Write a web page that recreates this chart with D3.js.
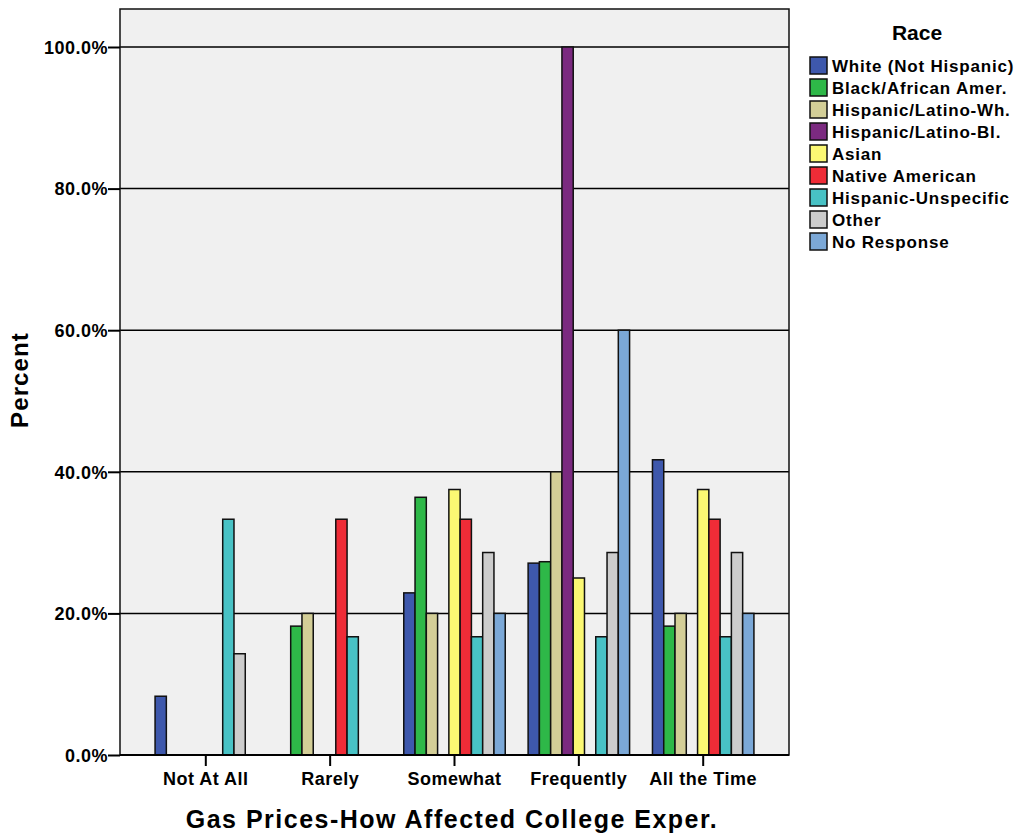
<!DOCTYPE html>
<html><head><meta charset="utf-8">
<script src="https://cdn.jsdelivr.net/npm/d3@7"></script>
<style>
body{margin:0;background:#fff;}
text{font-family:"Liberation Sans",Arial,sans-serif;font-weight:bold;fill:#000;}
</style></head>
<body><svg id="c" width="1021" height="838"></svg>
<script>
const categories = ["Not At All","Rarely","Somewhat","Frequently","All the Time"];
const seriesNames = ["White (Not Hispanic)","Black/African Amer.","Hispanic/Latino-Wh.","Hispanic/Latino-Bl.","Asian","Native American","Hispanic-Unspecific","Other","No Response"];
const seriesColors = ["#3e58ac","#2eb848","#d3ce97","#7b2a80","#fbf873","#ef2c37","#48c2c5","#cccccc","#7ba8d7"];
// values per series across categories (null = no bar)
const white    = [8.3, null, 22.9, 27.1, 41.7];
const black    = [null, 18.2, 36.4, 27.3, 18.2];
const hispWh   = [null, 20.0, 20.0, 40.0, 20.0];
const hispBl   = [null, null, null, 100.0, null];
const asian    = [null, null, 37.5, 25.0, 37.5];
const native   = [null, 33.3, 33.3, null, 33.3];
const hispUns  = [33.3, 16.7, 16.7, 16.7, 16.7];
const other    = [14.3, null, 28.6, 28.6, 28.6];
const noResp   = [null, null, 20.0, 60.0, 20.0];
const yTicks = [0,20,40,60,80,100];
const series = [white,black,hispWh,hispBl,asian,native,hispUns,other,noResp];

const svg = d3.select("#c");
const L=120, R=789, T=9, B=755;
const y = d3.scaleLinear().domain([0,100]).range([B,47]);
const x = d3.scaleBand().domain(categories).range([L,R]).paddingInner(0).paddingOuter(0.19);
const xi = d3.scaleBand().domain(d3.range(seriesNames.length)).range([0,x.bandwidth()*0.816]);
const off = (x.bandwidth()-xi.range()[1])/2;

svg.append("rect").attr("x",L).attr("y",T).attr("width",R-L).attr("height",B-T).attr("fill","#f0f0f0");
// grid
svg.append("g").selectAll("line").data(yTicks.filter(d=>d>0)).join("line")
  .attr("x1",L).attr("x2",R).attr("y1",d=>y(d)).attr("y2",d=>y(d))
  .attr("stroke","#000").attr("stroke-width",1.5);

// bars
const bars=[];
series.forEach((s,si)=>s.forEach((v,ci)=>{ if(v!=null) bars.push({si,ci,v}); }));
svg.append("g").selectAll("rect").data(bars).join("rect")
  .attr("x",d=>x(categories[d.ci])+off+xi(d.si))
  .attr("width",xi.bandwidth())
  .attr("y",d=>y(d.v)).attr("height",d=>B-y(d.v))
  .attr("fill",d=>seriesColors[d.si]).attr("stroke","#111").attr("stroke-width",1.5);

// frame
svg.append("rect").attr("x",L).attr("y",T).attr("width",R-L).attr("height",B-T).attr("fill","none").attr("stroke","#111").attr("stroke-width",1.5);

// y axis
const ya = svg.append("g").attr("transform",`translate(${L},0)`)
  .call(d3.axisLeft(y).tickValues(yTicks).tickFormat(d=>d3.format(".1f")(d)+"%").tickSize(12).tickSizeOuter(0));
ya.select(".domain").remove();
ya.selectAll("line").attr("stroke","#000").attr("stroke-width",2);
ya.selectAll("text").attr("font-size",18).attr("x",-12).attr("dy","0.35em")
  .style("font-family","'Liberation Sans',Arial,sans-serif").style("font-weight","bold").style("letter-spacing","0.5px");

// x axis
const xa = svg.append("g").attr("transform",`translate(0,${B})`)
  .call(d3.axisBottom(x).tickSize(11).tickSizeOuter(0));
xa.select(".domain").attr("stroke","#000").attr("stroke-width",2).attr("d",`M${L},0H${R}`);
xa.selectAll("line").attr("stroke","#000").attr("stroke-width",2);
xa.selectAll("text").attr("font-size",18).attr("y",17).attr("dy","0.71em")
  .style("font-family","'Liberation Sans',Arial,sans-serif").style("font-weight","bold").style("letter-spacing","0.5px");

// axis titles
svg.append("text").attr("x",452).attr("y",828).attr("text-anchor","middle").attr("font-size",25).style("letter-spacing","1.5px").text("Gas Prices-How Affected College Exper.");
svg.append("text").attr("transform","translate(28,380) rotate(-90)").attr("text-anchor","middle").attr("font-size",24).style("letter-spacing","1.1px").text("Percent");

// legend
svg.append("text").attr("x",917).attr("y",40).attr("text-anchor","middle").attr("font-size",21).text("Race");
const lg = svg.append("g").selectAll("g").data(seriesNames).join("g")
  .attr("transform",(d,i)=>`translate(810,${57+i*22})`);
lg.append("rect").attr("width",17).attr("height",17).attr("fill",(d,i)=>seriesColors[i]).attr("stroke","#111").attr("stroke-width",1.5);
lg.append("text").attr("x",22).attr("y",9).attr("dy","0.36em").attr("font-size",17).style("letter-spacing","0.8px").text(d=>d);
</script></body></html>
